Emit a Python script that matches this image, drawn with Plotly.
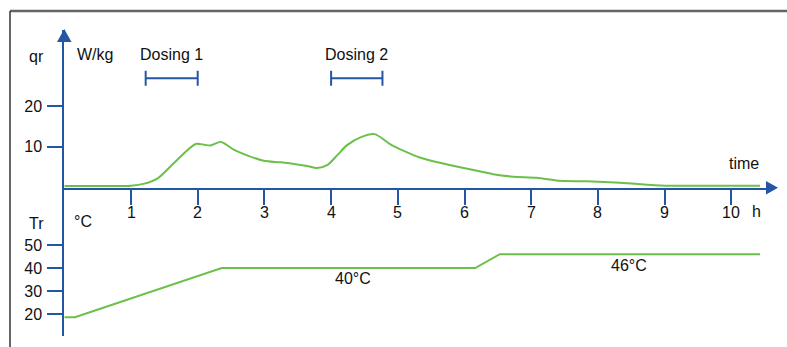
import plotly.graph_objects as go

# ---- data ----
time_h = [0, 0.9, 1.0, 1.2, 1.4, 1.66, 1.97, 2.1, 2.19, 2.35, 2.54, 2.74, 2.99, 3.24,
          3.49, 3.64, 3.79, 3.94, 4.09, 4.24, 4.44, 4.65, 4.89, 5.09, 5.33, 5.63, 6.08,
          6.43, 6.73, 7.08, 7.43, 7.83, 8.33, 9.0, 9.5, 10.43]
qr_wkg = [0.4, 0.4, 0.45, 1.0, 2.3, 6.3, 10.7, 10.5, 10.3, 11.2, 9.3, 7.9, 6.6, 6.2,
          5.7, 5.3, 4.8, 5.5, 7.9, 10.4, 12.3, 13.1, 10.6, 9.0, 7.4, 6.1, 4.5,
          3.3, 2.7, 2.45, 1.7, 1.55, 1.2, 0.5, 0.45, 0.45]

tr_time = [0, 0.16, 2.36, 6.16, 6.53, 10.43]
tr_temp = [18.6, 18.6, 40, 40, 46, 46]

dosing_labels = ["Dosing 1", "Dosing 2"]
dosing_start = [1.22, 4.0]
dosing_end = [2.0, 4.77]

x_ticks = [1, 2, 3, 4, 5, 6, 7, 8, 9, 10]
x_tick_labels = ["1", "2", "3", "4", "5", "6", "7", "8", "9", "10"]
qr_ticks = [10, 20]
tr_ticks = [20, 30, 40, 50]

BLUE = "#2456a6"
GREEN = "#6cc04a"
W, H = 787, 347
FONT = "Arial, Liberation Sans, sans-serif"


def px(x):
    return x / W


def py(y):
    return 1 - y / H


fig = go.Figure()

fig.add_trace(go.Scatter(x=time_h, y=qr_wkg, mode="lines", line=dict(color=GREEN, width=2, shape="spline", smoothing=0.8),
                         xaxis="x", yaxis="y", hoverinfo="skip"))
fig.add_trace(go.Scatter(x=tr_time, y=tr_temp, mode="lines", line=dict(color=GREEN, width=2),
                         xaxis="x", yaxis="y2", hoverinfo="skip"))

# dosing intervals
dose_y = 26.75
mids = [(a + b) / 2 for a, b in zip(dosing_start, dosing_end)]
halfs = [(b - a) / 2 for a, b in zip(dosing_start, dosing_end)]
fig.add_trace(go.Scatter(x=mids, y=[dose_y] * len(mids), mode="markers",
                         marker=dict(size=1, color="rgba(0,0,0,0)"),
                         error_x=dict(type="data", array=halfs, symmetric=True, color=BLUE, thickness=2, width=7.5),
                         xaxis="x", yaxis="y", hoverinfo="skip"))

TXT = dict(size=16, color="#111", family=FONT)
annotations = []
for lab, a, b in zip(dosing_labels, dosing_start, dosing_end):
    annotations.append(dict(x=(a + b) / 2, y=py(54), xref="x", yref="paper", text=lab, showarrow=False,
                            font=TXT, xanchor="center", yanchor="middle"))

# x tick labels placed just under the tick marks
for t, lab in zip(x_ticks, x_tick_labels):
    annotations.append(dict(x=t, y=py(212.5), xref="x", yref="paper", text=lab, showarrow=False,
                            font=TXT, xanchor="center", yanchor="middle"))


def ptext(t, x, y, xa="center"):
    annotations.append(dict(x=px(x), y=py(y), xref="paper", yref="paper", text=t, showarrow=False,
                            font=TXT, xanchor=xa, yanchor="middle"))


ptext("qr", 36, 56.7)
ptext("W/kg", 95, 54)
ptext("time", 744.3, 163.3)
ptext("h", 756.5, 212)
ptext("Tr", 36, 223.3)
ptext("°C", 83, 221.7)

annotations.append(dict(x=4.33, y=35.5, xref="x", yref="y2", text="40°C", showarrow=False, font=TXT))
annotations.append(dict(x=8.46, y=41.3, xref="x", yref="y2", text="46°C", showarrow=False, font=TXT))

shapes = [
    # frame
    dict(type="line", xref="paper", yref="paper", x0=px(10), x1=px(W), y0=py(11), y1=py(11),
         line=dict(color="#666", width=2.5)),
    dict(type="line", xref="paper", yref="paper", x0=px(10), x1=px(10), y0=py(11), y1=py(H),
         line=dict(color="#333", width=1.5)),
    # arrows
    dict(type="path", xref="paper", yref="paper",
         path=f"M {px(64.3)} {py(29)} L {px(57)} {py(42)} L {px(71.5)} {py(42)} Z",
         fillcolor=BLUE, line=dict(width=0)),
    dict(type="path", xref="paper", yref="paper",
         path=f"M {px(778)} {py(187.7)} L {px(766)} {py(181)} L {px(766)} {py(194.5)} Z",
         fillcolor=BLUE, line=dict(width=0)),
]

x0px, xendpx, scale = 64.3, 767, 66.7
axis_common = dict(showline=True, linecolor=BLUE, linewidth=2, ticks="outside", ticklen=15, tickwidth=2,
                   tickcolor=BLUE, showgrid=False, zeroline=False, tickfont=TXT, fixedrange=True)

fig.update_layout(
    width=W, height=H, margin=dict(l=0, r=0, t=0, b=0), autosize=False,
    paper_bgcolor="white", plot_bgcolor="white", showlegend=False,
    xaxis=dict(domain=[px(x0px), px(xendpx)], range=[0, (xendpx - x0px) / scale], anchor="y",
               tickvals=x_ticks, showticklabels=False, **axis_common),
    yaxis=dict(domain=[py(187.7), py(30)], range=[0, (187.7 - 30) / 4.09], anchor="x",
               tickvals=qr_ticks, ticktext=[str(t) for t in qr_ticks], ticklabelstandoff=2, **axis_common),
    yaxis2=dict(domain=[py(336), py(187.7)], range=[20 + (314 - 336) / 2.3, 20 + (314 - 187.7) / 2.3], anchor="x",
                tickvals=tr_ticks, ticktext=[str(t) for t in tr_ticks], ticklabelstandoff=2, **axis_common),
    annotations=annotations, shapes=shapes,
)

fig.write_html("out.html", config={"displayModeBar": False},
               post_script="document.body.style.margin='0';document.body.style.overflow='hidden';")
